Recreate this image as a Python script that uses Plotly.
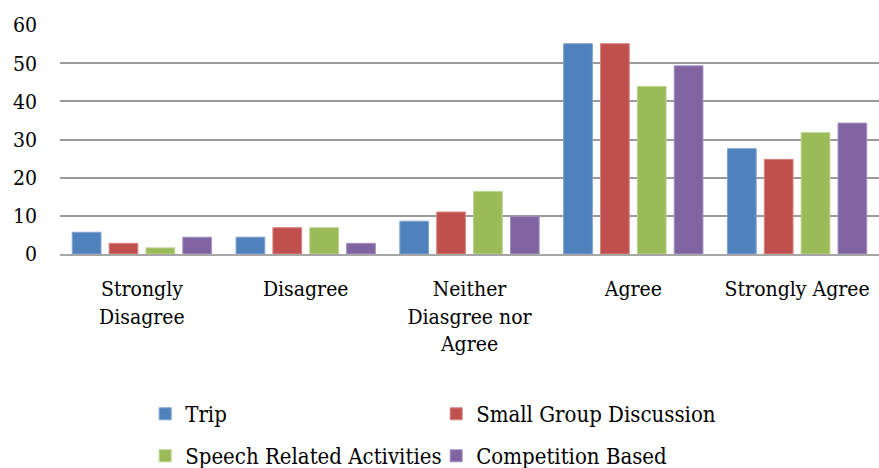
import plotly.graph_objects as go

# Survey response categories (x axis)
categories = ["Strongly<br>Disagree", "Disagree", "Neither<br>Diasgree nor<br>Agree", "Agree", "Strongly Agree"]

# Percentage of respondents per activity type
trip = [5.7, 4.4, 8.6, 55.1, 27.6]
small_group = [2.8, 6.9, 11.0, 55.1, 24.8]
speech = [1.6, 6.9, 16.4, 43.9, 31.8]
competition = [4.4, 2.8, 9.9, 49.3, 34.3]

series_names = ["Trip", "Small Group Discussion", "Speech Related Activities", "Competition Based"]
series_values = [trip, small_group, speech, competition]
series_colors = ["#4F81BD", "#C0504D", "#9BBB59", "#8064A2"]
series_edges = ["#7FA3D2", "#D88582", "#BCD38F", "#A592C0"]
series_legend = ["legend", "legend", "legend2", "legend2"]

FONT = "DejaVu Serif Condensed, DejaVu Serif"

fig = go.Figure()
for name, vals, col, edge, lg in zip(series_names, series_values, series_colors, series_edges, series_legend):
    fig.add_trace(go.Bar(
        x=categories, y=vals, name=name, legend=lg,
        marker=dict(color=col, line=dict(color=edge, width=1)),
    ))

legend_common = dict(
    orientation="h", xanchor="left", yanchor="middle", yref="container",
    font=dict(family=FONT, size=22, color="black"),
    entrywidth=246, entrywidthmode="pixels",
    bgcolor="rgba(0,0,0,0)", itemclick=False,
)

fig.update_layout(
    width=879, height=468,
    margin=dict(l=60, r=0, t=25, b=214),
    paper_bgcolor="white", plot_bgcolor="white",
    barmode="group", bargap=0.1, bargroupgap=0.22,
    font=dict(family=FONT, color="black"),
    legend=dict(x=0.104, y=1 - 414 / 468, **legend_common),
    legend2=dict(x=0.104, y=1 - 456 / 468, **legend_common),
    xaxis=dict(
        showgrid=False, showline=True, linecolor="#A6A6A6", linewidth=2,
        ticks="", tickfont=dict(family=FONT, size=21, color="black"),
        ticklabelstandoff=15,
    ),
    yaxis=dict(
        range=[0, 60], dtick=10, showgrid=True, gridcolor="#9A9A9A", gridwidth=1.5,
        zeroline=False, showline=False, ticks="",
        tickfont=dict(family=FONT, size=21, color="black"),
        ticklabelstandoff=22,
    ),
)

fig.write_html("out.html")
